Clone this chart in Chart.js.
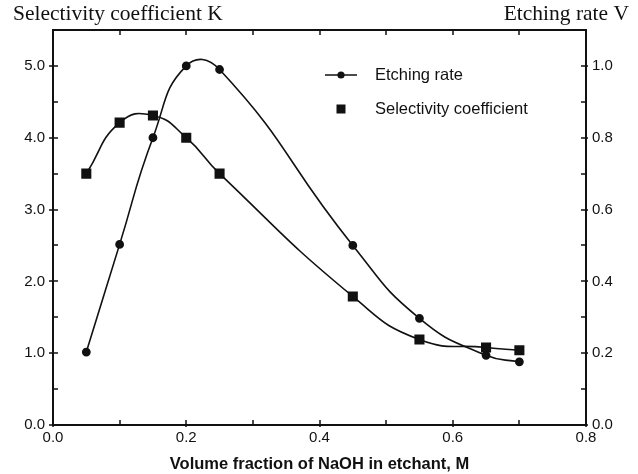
<!DOCTYPE html>
<html>
<head>
<meta charset="utf-8">
<script src="https://cdn.jsdelivr.net/npm/chart.js@4"></script>
<style>
  html, body { margin: 0; padding: 0; background: #fff; }
  #wrap { width: 638px; height: 474px; }
</style>
</head>
<body>
<div id="wrap"><canvas id="grafica" width="638" height="474"></canvas></div>
<script>
// NaOH volume fraction (x) and the two measured series
const fracciones = [0.05, 0.10, 0.15, 0.20, 0.25, 0.45, 0.55, 0.65, 0.70];
const velocidad = [0.203, 0.503, 0.80, 1.00, 0.99, 0.50, 0.297, 0.194, 0.176]; // etching rate V
const selectividad = [3.50, 4.21, 4.31, 4.00, 3.50, 1.79, 1.19, 1.08, 1.04];  // selectivity K

const xTicks = [0, 0.2, 0.4, 0.6, 0.8];
const kTicks = [0, 1, 2, 3, 4, 5];
const vTicks = [0, 0.2, 0.4, 0.6, 0.8, 1.0];

const tinta = '#111';

// frame, inward ticks, corner titles and the legend
const marco = {
    id: 'marco',
    afterDraw(chart) {
        const ctx = chart.ctx;
        const a = chart.chartArea;
        const sx = chart.scales.x, sk = chart.scales.y, sv = chart.scales.y1;
        ctx.save();
        ctx.strokeStyle = tinta;
        ctx.lineWidth = 2;
        ctx.strokeRect(a.left, a.top, a.right - a.left, a.bottom - a.top);

        ctx.lineWidth = 1.5;
        ctx.beginPath();
        for (let v = 0; v <= 0.8001; v += 0.1) {
            const px = Math.round(sx.getPixelForValue(v));
            const mayor = Math.abs(v * 5 - Math.round(v * 5)) < 1e-6;
            ctx.moveTo(px, a.bottom + (mayor ? 2 : 0)); ctx.lineTo(px, a.bottom - 5);
            ctx.moveTo(px, a.top); ctx.lineTo(px, a.top + 5);
        }
        for (let v = 0; v <= 5.5001; v += 0.5) {
            const py = Math.round(sk.getPixelForValue(v));
            const mayor = Math.abs(v - Math.round(v)) < 1e-6;
            ctx.moveTo(a.left - (mayor ? 4 : 0), py); ctx.lineTo(a.left + 5, py);
        }
        for (let v = 0; v <= 1.1001; v += 0.1) {
            const py = Math.round(sv.getPixelForValue(v));
            const mayor = Math.abs(v * 5 - Math.round(v * 5)) < 1e-6;
            ctx.moveTo(a.right + (mayor ? 2 : 0), py); ctx.lineTo(a.right - 5, py);
        }
        ctx.stroke();

        // corner titles
        ctx.fillStyle = tinta;
        ctx.font = '21.5px "Liberation Serif", serif';
        ctx.textBaseline = 'alphabetic';
        ctx.textAlign = 'left';
        ctx.fillText('Selectivity coefficient K', 13, 20);
        ctx.textAlign = 'right';
        ctx.fillText('Etching rate V', 629, 20);

        // legend
        const ds = chart.data.datasets;
        ctx.font = '16.5px "Liberation Sans", Arial, sans-serif';
        ctx.textAlign = 'left';
        ctx.textBaseline = 'middle';
        ctx.lineWidth = 1.5;
        ctx.beginPath();
        ctx.moveTo(325, 75); ctx.lineTo(357, 75);
        ctx.stroke();
        ctx.beginPath();
        ctx.arc(341, 75, ds[0].pointRadius, 0, Math.PI * 2);
        ctx.fill();
        ctx.fillText(ds[0].label, 375, 75);
        const lado = 9;
        ctx.fillRect(341 - lado / 2, 109 - lado / 2, lado, lado);
        ctx.fillText(ds[1].label, 375, 109);
        ctx.restore();
    }
};

const ctx = document.getElementById('grafica').getContext('2d');
const grafica = new Chart(ctx, {
    type: 'line',
    data: {
        datasets: [{
            label: 'Etching rate',
            data: fracciones.map((f, i) => ({ x: f, y: velocidad[i] })),
            yAxisID: 'y1',
            borderColor: tinta,
            backgroundColor: tinta,
            borderWidth: 1.6,
            pointStyle: 'circle',
            pointRadius: 3.6,
            tension: 0.5
        }, {
            label: 'Selectivity coefficient',
            data: fracciones.map((f, i) => ({ x: f, y: selectividad[i] })),
            yAxisID: 'y',
            borderColor: tinta,
            backgroundColor: tinta,
            borderWidth: 1.6,
            pointStyle: 'rect',
            pointRadius: 6,
            tension: 0.5
        }]
    },
    options: {
        responsive: false,
        animation: false,
        layout: { padding: { top: 30, left: 0, right: 0, bottom: 0 } },
        scales: {
            x: {
                type: 'linear',
                min: 0, max: 0.8,
                afterBuildTicks: s => { s.ticks = xTicks.map(v => ({ value: v })); },
                afterFit: s => { s.height = 49; },
                grid: { display: false, drawTicks: false },
                border: { display: false },
                ticks: {
                    padding: 4,
                    color: tinta,
                    font: { family: '"Liberation Sans", Arial', size: 15 },
                    callback: v => v.toFixed(1)
                },
                title: {
                    display: true,
                    text: 'Volume fraction of NaOH in etchant, M',
                    color: tinta,
                    font: { family: '"Liberation Sans", Arial', size: 16.5, weight: 'bold' },
                    padding: { top: -4, bottom: 0 }
                }
            },
            y: {
                position: 'left',
                min: 0, max: 5.5,
                afterBuildTicks: s => { s.ticks = kTicks.map(v => ({ value: v })); },
                afterFit: s => { s.width = 53; },
                grid: { display: false, drawTicks: false },
                border: { display: false },
                ticks: {
                    padding: 8,
                    color: tinta,
                    font: { family: '"Liberation Sans", Arial', size: 15 },
                    callback: v => v.toFixed(1)
                }
            },
            y1: {
                position: 'right',
                min: 0, max: 1.1,
                afterBuildTicks: s => { s.ticks = vTicks.map(v => ({ value: v })); },
                afterFit: s => { s.width = 52; },
                grid: { display: false, drawTicks: false },
                border: { display: false },
                ticks: {
                    padding: 6,
                    color: tinta,
                    font: { family: '"Liberation Sans", Arial', size: 15 },
                    callback: v => v.toFixed(1)
                }
            }
        },
        plugins: {
            legend: { display: false },
            tooltip: { enabled: false }
        }
    },
    plugins: [marco]
});
</script>
</body>
</html>
